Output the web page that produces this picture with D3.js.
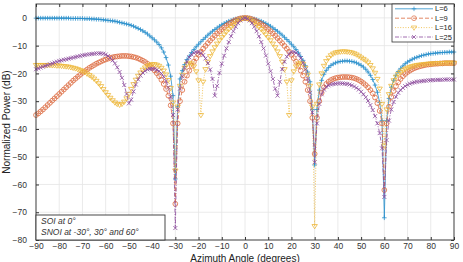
<!DOCTYPE html>
<html>
<head>
<meta charset="utf-8">
<script src="https://cdn.jsdelivr.net/npm/d3@7"></script>
<style>
	body { margin: 0; background: #fff; }
	#chart { width: 463px; height: 262px; }
	text { font-family: "Liberation Sans", Arial, sans-serif; }
</style>
</head>
<body>
<div id="chart"></div>
<script>
"use strict"

// azimuth samples, one per degree
const angles = d3.range(-90, 91, 1);

const seriesNames = ["L=6", "L=9", "L=16", "L=25"];

// normalized power (dB), -90..90 deg
const powerL6 = [
	-0.1,-0.1,-0.1,-0.1,-0.1,-0.1,-0.1,-0.1,-0.1,-0.1,
	-0.1,-0.1,-0.1,-0.1,-0.1,-0.2,-0.2,-0.2,-0.2,-0.2,
	-0.2,-0.3,-0.3,-0.3,-0.4,-0.4,-0.5,-0.5,-0.6,-0.7,
	-0.8,-0.9,-1.0,-1.1,-1.2,-1.4,-1.6,-1.8,-2.0,-2.2,
	-2.4,-2.7,-3.0,-3.4,-3.8,-4.2,-4.7,-5.2,-5.8,-6.5,
	-7.2,-7.9,-8.7,-9.6,-10.8,-12.3,-14.3,-17,-21,-28,
	-58,-32,-22,-19,-16.8,-15,-13.8,-12.5,-11.4,-10.4,
	-9.5,-8.6,-7.8,-7.0,-6.2,-5.5,-4.8,-4.2,-3.6,-3.0,
	-2.5,-2.0,-1.6,-1.2,-0.9,-0.6,-0.4,-0.2,-0.1,0,
	0,0,-0.1,-0.2,-0.4,-0.6,-0.9,-1.2,-1.6,-2.0,
	-2.5,-3.0,-3.6,-4.2,-4.8,-5.5,-6.2,-7.0,-7.8,-8.6,
	-9.5,-10.4,-11.4,-12.6,-13.9,-15.3,-17.2,-19.5,-23,-33,
	-53,-33,-26,-22.5,-20.3,-18.9,-17.9,-17.1,-16.6,-16.2,
	-15.9,-15.7,-15.6,-15.5,-15.5,-15.6,-15.7,-15.9,-16.2,-16.6,
	-17.1,-17.7,-18.5,-19.5,-20.7,-22.2,-24.2,-26.8,-30.5,-37,
	-72,-37,-29,-25,-22.5,-20.7,-19.3,-18.2,-17.3,-16.5,
	-15.9,-15.4,-14.9,-14.5,-14.2,-13.9,-13.6,-13.4,-13.2,-13.0,
	-12.9,-12.8,-12.7,-12.6,-12.5,-12.5,-12.4,-12.4,-12.3,-12.3,
	-12.3
];

const powerL9 = [
	-35,-34.4,-33.7,-33,-32.2,-31.4,-30.6,-29.8,-29,-28.2,
	-27.4,-26.6,-25.8,-25,-24.2,-23.4,-22.6,-21.9,-21.2,-20.5,
	-19.8,-19.2,-18.6,-18,-17.5,-17,-16.5,-16.1,-15.7,-15.3,
	-15,-14.7,-14.4,-14.2,-14,-13.9,-13.8,-13.7,-13.7,-13.7,
	-13.8,-13.9,-14.1,-14.3,-14.6,-15,-15.4,-15.9,-16.5,-17.2,
	-18,-18.9,-19.9,-21,-22.3,-23.8,-25.6,-28,-31.5,-38,
	-67,-38,-30,-26,-23,-20.8,-19,-17.3,-15.8,-14.5,
	-13.3,-12.2,-11.1,-10.1,-9.1,-8.2,-7.3,-6.4,-5.6,-4.8,
	-4.1,-3.4,-2.8,-2.2,-1.7,-1.2,-0.8,-0.5,-0.2,-0.1,
	0,-0.1,-0.2,-0.5,-0.8,-1.2,-1.7,-2.2,-2.8,-3.4,
	-4.1,-4.8,-5.6,-6.4,-7.3,-8.2,-9.1,-10.1,-11.1,-12.2,
	-13.3,-14.5,-15.8,-17.3,-19,-20.8,-23,-26,-30,-36,
	-49,-36,-30,-27,-25,-23.8,-23,-22.4,-22,-21.7,
	-21.5,-21.4,-21.3,-21.3,-21.3,-21.4,-21.5,-21.7,-22,-22.4,
	-22.9,-23.5,-24.2,-25,-26,-27.2,-28.7,-30.7,-33.5,-38,
	-62,-38,-32,-28.5,-26.3,-24.6,-23.2,-22,-21,-20.2,
	-19.5,-19,-18.5,-18.1,-17.8,-17.5,-17.3,-17.1,-16.9,-16.8,
	-16.7,-16.6,-16.5,-16.5,-16.4,-16.4,-16.3,-16.3,-16.3,-16.3,
	-16.3
];

const powerL16 = [
	-17,-17,-17,-17,-17,-17,-17,-17.1,-17.1,-17.2,
	-17.2,-17.3,-17.4,-17.5,-17.6,-17.8,-18,-18.2,-18.5,-18.8,
	-19.2,-19.6,-20.1,-20.6,-21.2,-21.9,-22.7,-23.6,-24.6,-25.7,
	-26.8,-27.8,-28.8,-29.7,-30.5,-31,-31.3,-31,-30.2,-29,
	-27.4,-25.6,-23.9,-22.3,-20.9,-19.7,-18.7,-17.9,-17.3,-16.9,
	-16.7,-16.7,-16.9,-17.3,-18,-19,-20.4,-22.4,-25.3,-30.5,
	-55,-32,-24.5,-20.5,-18,-16.6,-16.2,-16.5,-17.5,-19.3,
	-22.5,-35,-23,-18.5,-15.8,-13.8,-12.1,-10.6,-9.3,-8.1,
	-7,-6,-5,-4.1,-3.3,-2.5,-1.8,-1.2,-0.6,-0.2,
	0,-0.2,-0.6,-1.2,-1.8,-2.5,-3.3,-4.1,-5,-6,
	-7,-8.1,-9.3,-10.6,-12.1,-13.8,-15.8,-18.5,-23,-35,
	-22.5,-19.3,-17.5,-16.5,-16.2,-16.6,-18,-20.5,-24.5,-32,
	-75,-31,-24,-20,-17.3,-15.6,-14.4,-13.5,-12.9,-12.5,
	-12.3,-12.2,-12.1,-12.1,-12.2,-12.3,-12.5,-12.8,-13.2,-13.7,
	-14.3,-14.8,-15.4,-16.1,-17,-18.2,-19.8,-22,-25.5,-31,
	-46,-33,-27.5,-24.5,-22.5,-21.2,-20.2,-19.5,-18.9,-18.4,
	-18,-17.7,-17.4,-17.2,-17,-16.9,-16.8,-16.7,-16.6,-16.5,
	-16.5,-16.4,-16.4,-16.3,-16.3,-16.3,-16.2,-16.2,-16.2,-16.2,
	-16.2
];

const powerL25 = [
	-18.5,-18.2,-17.9,-17.6,-17.3,-17,-16.7,-16.4,-16.1,-15.8,
	-15.5,-15.3,-15.1,-14.9,-14.7,-14.5,-14.3,-14.1,-13.9,-13.7,
	-13.5,-13.4,-13.2,-13.1,-13,-12.9,-12.8,-12.8,-12.8,-12.9,
	-13.2,-13.7,-14.4,-15.3,-16.4,-17.8,-19.5,-21.6,-24.2,-27.4,
	-30.8,-29.5,-26.5,-24,-22.2,-20.8,-19.8,-19.1,-18.6,-18.4,
	-18.3,-18.4,-18.7,-19.2,-20,-21.2,-22.8,-25,-28.5,-35,
	-75.7,-33,-25.5,-21,-18,-15.8,-14.2,-13.2,-12.6,-12.3,
	-12.3,-12.7,-13.4,-14.6,-16.3,-18.6,-22,-28,-24.5,-19.8,
	-16.5,-13.6,-11,-8.7,-6.6,-4.8,-3.2,-1.9,-0.9,-0.25,
	0,-0.25,-0.9,-1.9,-3.2,-4.8,-6.6,-8.7,-11,-13.6,
	-16.5,-19.2,-22,-25.5,-28,-23,-18.5,-15.8,-14,-12.9,
	-12.4,-12.3,-12.6,-13.3,-14.5,-16.2,-18.6,-22,-27,-34,
	-52,-38,-31,-27.5,-25.8,-24.8,-24.3,-24,-23.8,-23.7,
	-23.6,-23.6,-23.6,-23.7,-23.8,-24,-24.3,-24.7,-25.2,-25.8,
	-26.6,-27.5,-28.6,-29.9,-31.4,-33.2,-35.4,-38,-41.5,-47,
	-64.5,-44,-37,-33,-30.3,-28.4,-27,-26,-25.2,-24.6,
	-24.1,-23.7,-23.4,-23.2,-23,-22.9,-22.8,-22.7,-22.6,-22.5,
	-22.5,-22.4,-22.4,-22.3,-22.3,-22.3,-22.2,-22.2,-22.2,-22.2,
	-22.2
];

const xTicks = [-90, -80, -70, -60, -50, -40, -30, -20, -10, 0, 10, 20, 30, 40, 50, 60, 70, 80, 90];
const yTicks = [-80, -70, -60, -50, -40, -30, -20, -10, 0];

const noteLines = ["SOI at 0\u00b0", "SNOI at -30\u00b0, 30\u00b0 and 60\u00b0"];

let PatternChart = function(targetID) {
	let self = {
		target: null,
		svg: null,
		totalWidth: 463,
		totalHeight: 262,
		margin: {left: 36, right: 9, top: 4, bottom: 22},
		xScale: d3.scaleLinear().domain([-90, 90]),
		yScale: d3.scaleLinear().domain([-80, 5]),
		series: [],
		// MATLAB-ish default colours, markers and line styles
		styles: [
			{color: "#2a8fcb", dash: null, marker: "plus"},
			{color: "#dc6a3f", dash: "4,2", marker: "circle"},
			{color: "#eeb73a", dash: "1,1.6", marker: "triDown"},
			{color: "#8c4a9c", dash: "4,1.5,1,1.5", marker: "cross"},
		],
	};

	function data(names, values) {
		self.series = names.map((n, i) => ({
			name: n,
			points: angles.map((a, j) => ({a: a, p: values[i][j]})),
		}));
		return this;
	}

	function markerPath(kind) {
		if (kind == "plus") return "M-2.3,0H2.3M0,-2.3V2.3";
		if (kind == "cross") return "M-2,-2L2,2M-2,2L2,-2";
		if (kind == "triDown") return "M-2.7,-1.6L2.7,-1.6L0,2.7Z";
		return "M2.4,0A2.4,2.4 0 1,1 -2.4,0A2.4,2.4 0 1,1 2.4,0Z";
	}

	function draw() {
		let m = self.margin;
		let x0 = m.left, x1 = self.totalWidth - m.right;
		let y0 = m.top, y1 = self.totalHeight - m.bottom;
		self.xScale.range([x0, x1]);
		self.yScale.range([y1, y0]);
		let x = self.xScale, y = self.yScale;

		self.target = d3.select(targetID);
		self.svg = self.target.append("svg")
			.attr("width", self.totalWidth)
			.attr("height", self.totalHeight);

		// grid
		let grid = self.svg.append("g").attr("stroke", "#e4e4e4").attr("stroke-width", 0.8);
		grid.selectAll(".gx").data(xTicks).enter().append("line")
			.attr("x1", d => x(d)).attr("x2", d => x(d))
			.attr("y1", y0).attr("y2", y1);
		grid.selectAll(".gy").data(yTicks).enter().append("line")
			.attr("y1", d => y(d)).attr("y2", d => y(d))
			.attr("x1", x0).attr("x2", x1);

		// curves
		let line = d3.line().x(d => x(d.a)).y(d => y(d.p));
		let groups = self.svg.append("g").selectAll("g")
			.data(self.series)
			.enter().append("g");

		groups.append("path")
			.attr("d", d => line(d.points))
			.attr("fill", "none")
			.attr("stroke", (d, i) => self.styles[i].color)
			.attr("stroke-width", 0.8)
			.attr("stroke-dasharray", (d, i) => self.styles[i].dash);

		groups.each(function(d, i) {
			let st = self.styles[i];
			d3.select(this).selectAll(".mk")
				.data(d.points)
				.enter().append("path")
					.attr("transform", p => `translate(${x(p.a)},${y(p.p)})`)
					.attr("d", markerPath(st.marker))
					.attr("fill", "none")
					.attr("stroke", st.color)
					.attr("stroke-width", 0.8);
		});

		// axes: inward ticks on all four sides
		let axisStyle = g => {
			g.select(".domain").remove();
			g.selectAll(".tick line").attr("stroke", "#333");
			g.selectAll(".tick text").attr("fill", "#333").attr("font-size", 8.5);
		};
		self.svg.append("g")
			.attr("transform", `translate(0,${y1})`)
			.call(d3.axisBottom(x).tickValues(xTicks).tickSizeInner(-3).tickSizeOuter(0).tickPadding(3))
			.call(axisStyle);
		self.svg.append("g")
			.attr("transform", `translate(0,${y0})`)
			.call(d3.axisTop(x).tickValues(xTicks).tickSizeInner(-3).tickSizeOuter(0).tickFormat(""))
			.call(axisStyle);
		self.svg.append("g")
			.attr("transform", `translate(${x0},0)`)
			.call(d3.axisLeft(y).tickValues(yTicks).tickSizeInner(-3).tickSizeOuter(0).tickPadding(9))
			.call(axisStyle);
		self.svg.append("g")
			.attr("transform", `translate(${x1},0)`)
			.call(d3.axisRight(y).tickValues(yTicks).tickSizeInner(-3).tickSizeOuter(0).tickFormat(""))
			.call(axisStyle);

		self.svg.append("rect")
			.attr("x", x0).attr("y", y0)
			.attr("width", x1 - x0).attr("height", y1 - y0)
			.attr("fill", "none")
			.attr("stroke", "#333")
			.attr("stroke-width", 0.9);

		// axis labels
		self.svg.append("text")
			.attr("x", (x0 + x1) / 2)
			.attr("y", 261.5)
			.attr("text-anchor", "middle")
			.attr("font-size", 10)
			.attr("fill", "#222")
			.text("Azimuth Angle (degrees)");

		self.svg.append("text")
			.attr("transform", `translate(10,${(y0 + y1) / 2}) rotate(-90)`)
			.attr("text-anchor", "middle")
			.attr("font-size", 10)
			.attr("fill", "#222")
			.text("Normalized Power (dB)");

		drawLegend(x1, y0);
		drawNote(x0, y1);
	}

	function drawLegend(right, top) {
		let w = 62, h = 38;
		let lg = self.svg.append("g").attr("transform", `translate(${right - w},${top})`);
		lg.append("rect")
			.attr("width", w).attr("height", h)
			.attr("fill", "#fff")
			.attr("stroke", "#333")
			.attr("stroke-width", 0.8);

		let rows = lg.selectAll(".row")
			.data(self.series)
			.enter().append("g")
				.attr("transform", (d, i) => `translate(0,${4.8 + i * 9.4})`);

		rows.append("line")
			.attr("x1", 3).attr("x2", 41)
			.attr("stroke", (d, i) => self.styles[i].color)
			.attr("stroke-width", 0.8)
			.attr("stroke-dasharray", (d, i) => self.styles[i].dash);
		rows.append("path")
			.attr("transform", "translate(22,0)")
			.attr("d", (d, i) => markerPath(self.styles[i].marker))
			.attr("fill", "none")
			.attr("stroke", (d, i) => self.styles[i].color)
			.attr("stroke-width", 0.7);
		rows.append("text")
			.attr("x", 43)
			.attr("dy", "0.35em")
			.attr("font-size", 7.5)
			.attr("fill", "#222")
			.text(d => d.name);
	}

	function drawNote(left, bottom) {
		let w = 129, h = 25;
		let g = self.svg.append("g").attr("transform", `translate(${left},${bottom - h})`);
		g.append("rect")
			.attr("width", w).attr("height", h)
			.attr("fill", "#fff")
			.attr("stroke", "#333")
			.attr("stroke-width", 0.9);
		g.selectAll("text")
			.data(noteLines)
			.enter().append("text")
				.attr("x", 5)
				.attr("y", (d, i) => 8.5 + i * 11)
				.attr("font-size", 8.5)
				.attr("font-style", "italic")
				.attr("fill", "#333")
				.text(d => d);
	}

	return {
		data,
		draw,
	};
}

PatternChart("#chart")
	.data(seriesNames, [powerL6, powerL9, powerL16, powerL25])
	.draw();
</script>
</body>
</html>
